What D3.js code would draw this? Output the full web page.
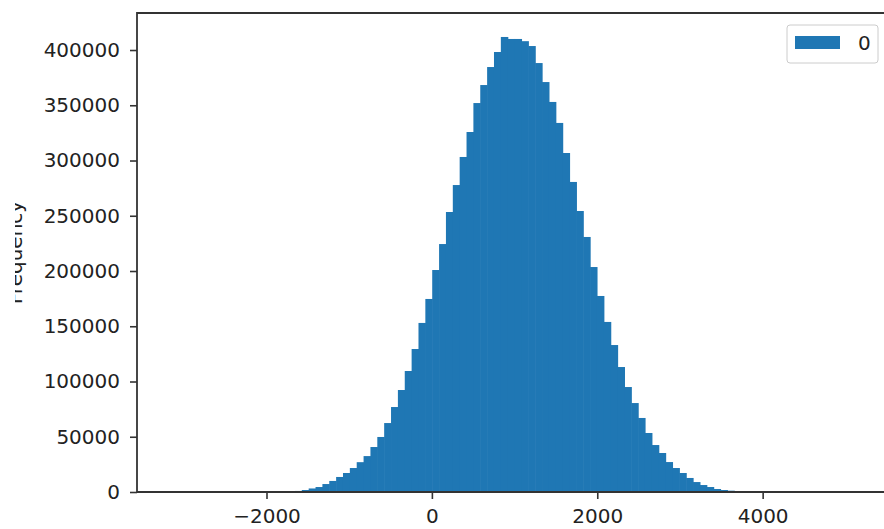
<!DOCTYPE html>
<html>
<head>
<meta charset="utf-8">
<script src="https://cdn.jsdelivr.net/npm/d3@7"></script>
<style>
  body { margin: 0; background: #fff; overflow: hidden; }
  svg { display: block; font-family: "DejaVu Sans", sans-serif; }
</style>
</head>
<body>
<div id="chart"></div>
<script>
// histogram bins (100 bins, equal width)
const binStart = -3150;
const binWidth = 83;
const counts = [
  1, 0, 0, 1, 1, 2, 3, 4, 7, 12,
  20, 35, 55, 90, 150, 250, 400, 600, 950, 1800,
  3200, 4500, 7200, 10000, 13600, 17200, 21700, 27000, 32500, 40700,
  49800, 62400, 76900, 92300, 109500, 129400, 153000, 174700, 200900, 224400,
  253400, 277800, 303200, 325800, 352000, 368300, 384600, 398200, 411800, 410000,
  410000, 408000, 403600, 388200, 371000, 353000, 334000, 306800, 280600, 254300,
  230800, 203600, 177400, 153900, 133000, 113100, 95000, 80500, 67000, 53400,
  42500, 35300, 27100, 21700, 17200, 12700, 9000, 6300, 4500, 2700,
  1800, 1200, 800, 550, 380, 250, 170, 110, 70, 45,
  28, 18, 11, 7, 4, 3, 2, 1, 0, 1
];
const xTicks = [-2000, 0, 2000, 4000];
const yTicks = [0, 50000, 100000, 150000, 200000, 250000, 300000, 350000, 400000];
const seriesNames = ["0"];
const yLabel = "Frequency";

const W = 884, H = 529;
const plot = {left: 137, top: 13, right: 890, bottom: 492};
const barColor = "#1f77b4";

const bins = counts.map((c, i) => ({x0: binStart + i * binWidth, x1: binStart + (i + 1) * binWidth, count: c}));

const svg = d3.select("#chart").append("svg")
    .attr("width", W)
    .attr("height", H);

const x = d3.scaleLinear().domain([-3566, 5540]).range([plot.left, plot.right]);
const y = d3.scaleLinear().domain([0, 433500]).range([plot.bottom, plot.top]);

// bars (slight overlap so no seams show between neighbours)
svg.append("g")
    .selectAll("rect")
    .data(bins)
    .join("rect")
    .attr("x", d => x(d.x0))
    .attr("y", d => y(d.count))
    .attr("width", d => x(d.x1) - x(d.x0) + 0.6)
    .attr("height", d => y(0) - y(d.count))
    .attr("fill", barColor);

// axes
const yAxis = svg.append("g")
    .attr("transform", `translate(${plot.left},0)`)
    .call(d3.axisLeft(y).tickValues(yTicks).tickSize(7).tickPadding(10).tickFormat(d => d));

const xAxis = svg.append("g")
    .attr("transform", `translate(0,${plot.bottom})`)
    .call(d3.axisBottom(x).tickValues(xTicks).tickSize(7).tickPadding(9.8)
        .tickFormat(d => d < 0 ? "\u2212" + Math.abs(d) : d));

[yAxis, xAxis].forEach(a => {
    a.select(".domain").remove();
    a.selectAll(".tick line").attr("stroke", "#333").attr("stroke-width", 1.6);
    a.selectAll(".tick text")
        .attr("fill", "#222")
        .style("font-size", "20px")
        .style("font-family", "'DejaVu Sans', sans-serif");
});

// spines: left, top and bottom only (right one is off the picture)
const spine = d3.path();
spine.moveTo(W + 10, plot.top);
spine.lineTo(plot.left, plot.top);
spine.lineTo(plot.left, plot.bottom);
spine.lineTo(W + 10, plot.bottom);
svg.append("path")
    .attr("d", spine.toString())
    .attr("fill", "none")
    .attr("stroke", "#333")
    .attr("stroke-width", 1.8);

// y label (cut at the left edge like the source image)
svg.append("clipPath")
    .attr("id", "ylabClip")
    .append("rect")
    .attr("x", 15).attr("y", 0).attr("width", 100).attr("height", H);

svg.append("g")
    .attr("clip-path", "url(#ylabClip)")
    .append("text")
    .attr("transform", `translate(22,${(plot.top + plot.bottom) / 2}) rotate(-90)`)
    .attr("text-anchor", "middle")
    .attr("fill", "#222")
    .style("font-size", "20px")
    .text(yLabel);

// legend
const legend = svg.append("g").attr("transform", "translate(787,25)");
legend.append("rect")
    .attr("width", 91).attr("height", 38).attr("rx", 3)
    .attr("fill", "#fff").attr("fill-opacity", 0.8)
    .attr("stroke", "#ccc").attr("stroke-width", 1);
seriesNames.forEach((name, i) => {
    legend.append("rect")
        .attr("x", 8).attr("y", 11 + i * 26)
        .attr("width", 45).attr("height", 13)
        .attr("fill", barColor);
    legend.append("text")
        .attr("x", 71).attr("y", 17.5 + i * 26)
        .attr("dy", "0.35em")
        .attr("fill", "#222")
        .style("font-size", "20px")
        .text(name);
});
</script>
</body>
</html>
